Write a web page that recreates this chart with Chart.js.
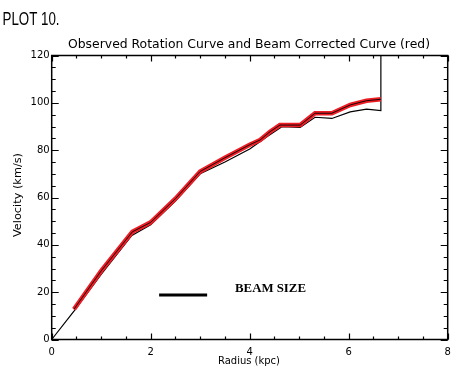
<!DOCTYPE html>
<html><head><meta charset="utf-8">
<script src="https://cdn.jsdelivr.net/npm/chart.js@4/dist/chart.umd.min.js"></script>
<style>html,body{margin:0;padding:0;background:#fff}canvas{display:block}</style>
</head><body>
<canvas id="c" width="470" height="381"></canvas>
<script>
// Observed rotation curve (black)
const obsR = [0, 0.45, 1.0, 1.62, 2.0, 2.5, 3.0, 3.5, 4.0, 4.4, 4.65, 5.02, 5.32, 5.66, 6.03, 6.36, 6.65, 6.65];
const obsV = [0, 12, 27.5, 44, 48.5, 58.5, 70, 75, 80.5, 86.4, 89.9, 89.6, 93.9, 93.4, 96.2, 97.3, 96.7, 120];
// Beam corrected curve (red)
const corR = [0.45, 1.0, 1.63, 2.0, 2.5, 3.0, 3.5, 4.0, 4.21, 4.41, 4.61, 5.02, 5.32, 5.66, 6.03, 6.36, 6.65];
const corV = [12.8, 29, 45.5, 49.5, 59.5, 71, 76.8, 82.3, 84.3, 87.8, 90.6, 90.6, 95.6, 95.6, 99.1, 100.9, 101.5];
// Beam size bar
const beamR = [2.17, 3.14];
const beamV = [18.8, 18.8];
const xTicks = [0, 2, 4, 6, 8];
const yTicks = [0, 20, 40, 60, 80, 100, 120];

const pts = (xs, ys) => xs.map((x, i) => ({x: x, y: ys[i]}));

const decor = {
  id: 'decor',
  afterDraw(chart) {
    const ctx = chart.ctx, a = chart.chartArea, xs = chart.scales.x, ys = chart.scales.y;
    ctx.save();
    ctx.strokeStyle = '#000'; ctx.lineWidth = 1.2;
    ctx.beginPath();
    for (let v = 0; v <= 120; v += 5) {
      const p = Math.round(ys.getPixelForValue(v)) + 0.5;
      const len = (v % 20 === 0) ? 7 : 4;
      ctx.moveTo(a.left, p); ctx.lineTo(a.left + len, p);
      ctx.moveTo(a.right, p); ctx.lineTo(a.right - len, p);
    }
    for (let v = 0; v <= 8; v += 0.5) {
      const p = Math.round(xs.getPixelForValue(v)) + 0.5;
      const len = (v % 2 === 0) ? 6 : 3;
      ctx.moveTo(p, a.bottom); ctx.lineTo(p, a.bottom - len);
      ctx.moveTo(p, a.top); ctx.lineTo(p, a.top + len);
    }
    ctx.stroke();
    ctx.lineWidth = 1.5;
    ctx.strokeRect(a.left, a.top, a.right - a.left, a.bottom - a.top);

    function fitText(t, cx, cy, w, font, rot) {
      ctx.save();
      ctx.font = font;
      const m = ctx.measureText(t).width;
      ctx.translate(cx, cy);
      if (rot) ctx.rotate(rot);
      ctx.scale(w / m, 1);
      ctx.textAlign = 'center'; ctx.textBaseline = 'middle';
      ctx.fillStyle = '#000';
      ctx.fillText(t, 0, 0);
      ctx.restore();
    }
    fitText('PLOT 10.', 31, 20, 57, '18px "Liberation Sans"');
    fitText('Observed Rotation Curve and Beam Corrected Curve (red)', 249, 45, 362, '12px "DejaVu Sans"');
    fitText('Velocity (km/s)', 18, 195, 84, '10px "DejaVu Sans"', -Math.PI / 2);
    fitText('Radius (kpc)', 249, 361, 62, '10px "DejaVu Sans"');
    fitText('BEAM SIZE', 270.5, 288.5, 71, 'bold 12px "Liberation Serif"');
    ctx.restore();
  }
};

new Chart(document.getElementById('c'), {
  type: 'scatter',
  data: {
    datasets: [
      {data: pts(obsR, obsV), showLine: true, borderColor: '#000', borderWidth: 1.2, pointRadius: 0, order: 3},
      {data: pts(corR, corV), showLine: true, borderColor: '#ee1c24', borderWidth: 4.5, pointRadius: 0, order: 2},
      {data: pts(corR, corV), showLine: true, borderColor: '#000', borderWidth: 0.9, pointRadius: 0, order: 1},
      {data: pts(beamR, beamV), showLine: true, borderColor: '#000', borderWidth: 3.2, pointRadius: 0, order: 0}
    ]
  },
  options: {
    responsive: false, animation: false,
    layout: {padding: {left: 0, top: 55.5, right: 22.3, bottom: 0}},
    plugins: {legend: {display: false}, tooltip: {enabled: false}},
    scales: {
      x: {
        type: 'linear', min: 0, max: 8,
        afterBuildTicks: s => { s.ticks = xTicks.map(v => ({value: v})); },
        afterFit: s => { s.height = 381 - 339.5; },
        grid: {display: false, drawTicks: false},
        border: {display: false},
        ticks: {padding: 7, color: '#000', font: {family: 'DejaVu Sans', size: 10}}
      },
      y: {
        type: 'linear', min: 0, max: 120,
        afterBuildTicks: s => { s.ticks = yTicks.map(v => ({value: v})); },
        afterFit: s => { s.width = 51.7; },
        grid: {display: false, drawTicks: false},
        border: {display: false},
        ticks: {padding: 2, color: '#000', font: {family: 'DejaVu Sans', size: 10}}
      }
    }
  },
  plugins: [decor]
});
</script>
</body></html>
